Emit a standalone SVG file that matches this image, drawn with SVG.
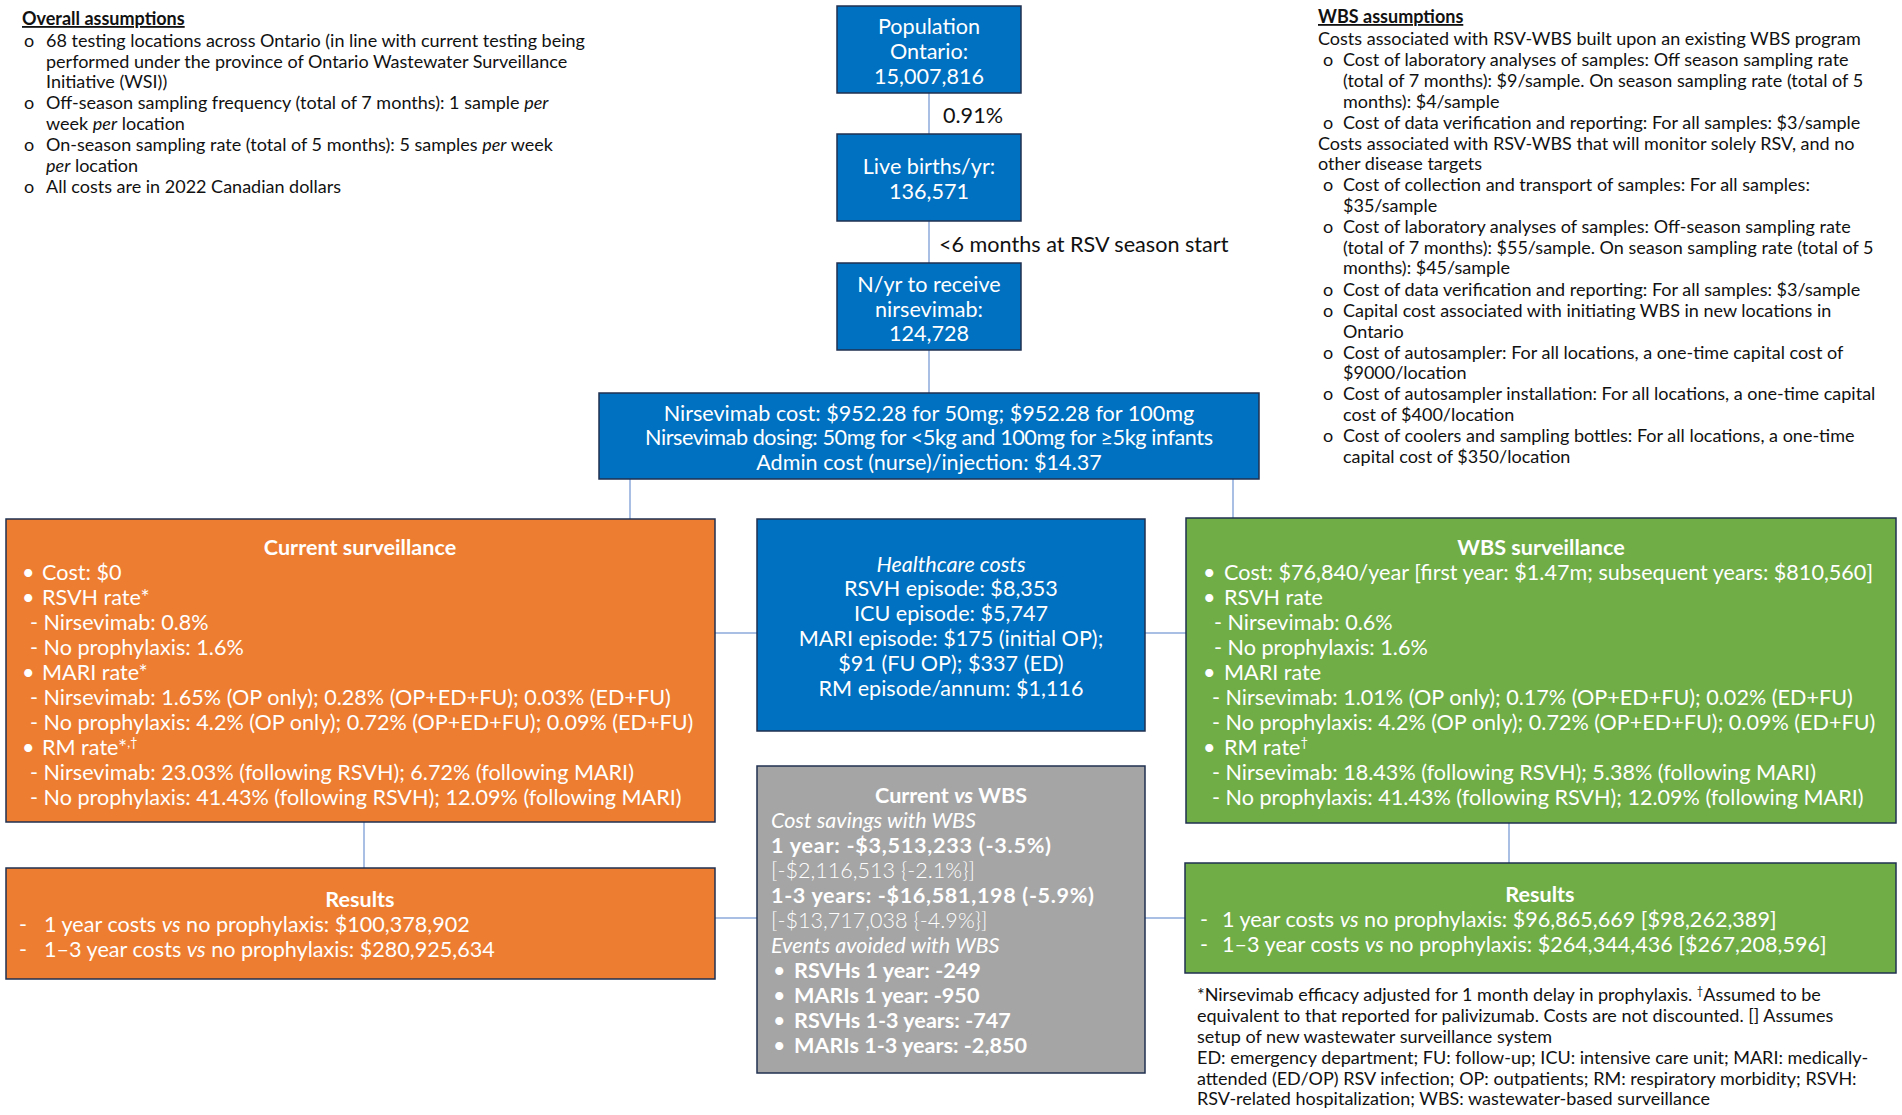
<svg xmlns="http://www.w3.org/2000/svg" width="1902" height="1115" viewBox="0 0 1902 1115">
<style>
text{font-family:Lato,"Noto Sans",sans-serif}
.k{font-size:18px;fill:#111}
.kt{font-size:18px;fill:#111;font-weight:700;text-decoration:underline}
.w{font-size:21.6px;fill:#fff}
.m{text-anchor:middle}
.b{font-weight:700}
.i{font-style:italic}
.l{font-weight:300}
.blue{fill:#0070c0;stroke:#1f3050;stroke-width:1.5}
.org{fill:#ed7d31;stroke:#1f3050;stroke-width:1.5}
.grn{fill:#70ad47;stroke:#1f3050;stroke-width:1.5}
.gry{fill:#a5a5a5;stroke:#1f3050;stroke-width:1.5}
.c{stroke:#8eaadb;stroke-width:1.5;fill:none}
</style>
<rect width="1902" height="1115" fill="#fff"/>

<g id="overall-assumptions">
<text class="kt" x="22" y="25">Overall assumptions</text>
<g class="k">
<text x="24" y="47">o</text><text x="46" y="47">68 testing locations across Ontario (in line with current testing being</text>
<text x="46" y="68">performed under the province of Ontario Wastewater Surveillance</text>
<text x="46" y="88">Initiative (WSI))</text>
<text x="24" y="109">o</text><text x="46" y="109">Off-season sampling frequency (total of 7 months): 1 sample <tspan class="i">per</tspan></text>
<text x="46" y="130">week <tspan class="i">per</tspan> location</text>
<text x="24" y="151">o</text><text x="46" y="151">On-season sampling rate (total of 5 months): 5 samples <tspan class="i">per</tspan> week</text>
<text x="46" y="172"><tspan class="i">per</tspan> location</text>
<text x="24" y="193">o</text><text x="46" y="193">All costs are in 2022 Canadian dollars</text>
</g>
</g>

<g id="wbs-assumptions">
<text class="kt" x="1318" y="23">WBS assumptions</text>
<g class="k">
<text x="1318" y="45">Costs associated with RSV-WBS built upon an existing WBS program</text>
<text x="1323" y="66">o</text><text x="1343" y="66">Cost of laboratory analyses of samples: Off season sampling rate</text>
<text x="1343" y="87">(total of 7 months): $9/sample. On season sampling rate (total of 5</text>
<text x="1343" y="108">months): $4/sample</text>
<text x="1323" y="129">o</text><text x="1343" y="129">Cost of data verification and reporting: For all samples: $3/sample</text>
<text x="1318" y="150">Costs associated with RSV-WBS that will monitor solely RSV, and no</text>
<text x="1318" y="170">other disease targets</text>
<text x="1323" y="191">o</text><text x="1343" y="191">Cost of collection and transport of samples: For all samples:</text>
<text x="1343" y="212">$35/sample</text>
<text x="1323" y="233">o</text><text x="1343" y="233">Cost of laboratory analyses of samples: Off-season sampling rate</text>
<text x="1343" y="254">(total of 7 months): $55/sample. On season sampling rate (total of 5</text>
<text x="1343" y="274">months): $45/sample</text>
<text x="1323" y="296">o</text><text x="1343" y="296">Cost of data verification and reporting: For all samples: $3/sample</text>
<text x="1323" y="317">o</text><text x="1343" y="317">Capital cost associated with initiating WBS in new locations in</text>
<text x="1343" y="338">Ontario</text>
<text x="1323" y="359">o</text><text x="1343" y="359">Cost of autosampler: For all locations, a one-time capital cost of</text>
<text x="1343" y="379">$9000/location</text>
<text x="1323" y="400">o</text><text x="1343" y="400">Cost of autosampler installation: For all locations, a one-time capital</text>
<text x="1343" y="421">cost of $400/location</text>
<text x="1323" y="442">o</text><text x="1343" y="442">Cost of coolers and sampling bottles: For all locations, a one-time</text>
<text x="1343" y="463">capital cost of $350/location</text>
</g>
</g>

<g id="connectors">
<line class="c" x1="929" y1="93" x2="929" y2="134"/>
<line class="c" x1="929" y1="221" x2="929" y2="263"/>
<line class="c" x1="929" y1="350" x2="929" y2="393"/>
<line class="c" x1="630" y1="479" x2="630" y2="519"/>
<line class="c" x1="1233" y1="479" x2="1233" y2="518"/>
<line class="c" x1="715" y1="633" x2="757" y2="633"/>
<line class="c" x1="1145" y1="633" x2="1186" y2="633"/>
<line class="c" x1="364" y1="822" x2="364" y2="868"/>
<line class="c" x1="1509" y1="823" x2="1509" y2="863"/>
<line class="c" x1="715" y1="918" x2="757" y2="918"/>
<line class="c" x1="1145" y1="918" x2="1185" y2="918"/>
<text x="943" y="122.5" style="font-size:21.6px;fill:#111">0.91%</text>
<text x="939" y="251.5" style="font-size:21.6px;fill:#111">&lt;6 months at RSV season start</text>
</g>

<g id="population">
<rect class="blue" x="837" y="6" width="184" height="87"/>
<text class="w m" x="929" y="33.5">Population</text>
<text class="w m" x="929" y="58.5">Ontario:</text>
<text class="w m" x="929" y="83.5">15,007,816</text>
</g>

<g id="live-births">
<rect class="blue" x="837" y="134" width="184" height="87"/>
<text class="w m" x="929" y="173.5">Live births/yr:</text>
<text class="w m" x="929" y="198.5">136,571</text>
</g>

<g id="n-receive">
<rect class="blue" x="837" y="263" width="184" height="87"/>
<text class="w m" x="929" y="291.5">N/yr to receive</text>
<text class="w m" x="929" y="316.5">nirsevimab:</text>
<text class="w m" x="929" y="340.5">124,728</text>
</g>

<g id="nirsevimab-cost">
<rect class="blue" x="599" y="393" width="660" height="86"/>
<text class="w m" x="929" y="420.5">Nirsevimab cost: $952.28 for 50mg; $952.28 for 100mg</text>
<text class="w m" x="929" y="445" textLength="568">Nirsevimab dosing: 50mg for &lt;5kg and 100mg for ≥5kg infants</text>
<text class="w m" x="929" y="469.5">Admin cost (nurse)/injection: $14.37</text>
</g>

<g id="current-surveillance">
<rect class="org" x="6" y="519" width="709" height="303"/>
<text class="w m b" x="360" y="554.5">Current surveillance</text>
<g class="w">
<text x="22" y="579.5">•</text><text x="42" y="579.5">Cost: $0</text>
<text x="22" y="604.5">•</text><text x="42" y="604.5">RSVH rate*</text>
<text x="30" y="629.5">- Nirsevimab: 0.8%</text>
<text x="30" y="654.5">- No prophylaxis: 1.6%</text>
<text x="22" y="679.5">•</text><text x="42" y="679.5">MARI rate*</text>
<text x="30" y="704.5">- Nirsevimab: 1.65% (OP only); 0.28% (OP+ED+FU); 0.03% (ED+FU)</text>
<text x="30" y="729.5">- No prophylaxis: 4.2% (OP only); 0.72% (OP+ED+FU); 0.09% (ED+FU)</text>
<text x="22" y="754.5">•</text><text x="42" y="754.5">RM rate*<tspan font-size="13" dy="-8">,†</tspan></text>
<text x="30" y="779.5">- Nirsevimab: 23.03% (following RSVH); 6.72% (following MARI)</text>
<text x="30" y="804.5">- No prophylaxis: 41.43% (following RSVH); 12.09% (following MARI)</text>
</g>
</g>

<g id="healthcare-costs">
<rect class="blue" x="757" y="519" width="388" height="212"/>
<text class="w m i" x="951" y="571.5">Healthcare costs</text>
<text class="w m" x="951" y="595.5">RSVH episode: $8,353</text>
<text class="w m" x="951" y="620.5">ICU episode: $5,747</text>
<text class="w m" x="951" y="645.5">MARI episode: $175 (initial OP);</text>
<text class="w m" x="951" y="670.5">$91 (FU OP); $337 (ED)</text>
<text class="w m" x="951" y="695.5">RM episode/annum: $1,116</text>
</g>

<g id="wbs-surveillance">
<rect class="grn" x="1186" y="518" width="710" height="305"/>
<text class="w m b" x="1541" y="554.5">WBS surveillance</text>
<g class="w">
<text x="1203" y="579.5">•</text><text x="1224" y="579.5">Cost: $76,840/year [first year: $1.47m; subsequent years: $810,560]</text>
<text x="1203" y="604.5">•</text><text x="1224" y="604.5">RSVH rate</text>
<text x="1214" y="629.5">- Nirsevimab: 0.6%</text>
<text x="1214" y="654.5">- No prophylaxis: 1.6%</text>
<text x="1203" y="679.5">•</text><text x="1224" y="679.5">MARI rate</text>
<text x="1212" y="704.5">- Nirsevimab: 1.01% (OP only); 0.17% (OP+ED+FU); 0.02% (ED+FU)</text>
<text x="1212" y="729.5">- No prophylaxis: 4.2% (OP only); 0.72% (OP+ED+FU); 0.09% (ED+FU)</text>
<text x="1203" y="754.5">•</text><text x="1224" y="754.5">RM rate<tspan font-size="13" dy="-8">†</tspan></text>
<text x="1212" y="779.5">- Nirsevimab: 18.43% (following RSVH); 5.38% (following MARI)</text>
<text x="1212" y="804.5">- No prophylaxis: 41.43% (following RSVH); 12.09% (following MARI)</text>
</g>
</g>

<g id="current-vs-wbs">
<rect class="gry" x="757" y="766" width="388" height="307"/>
<text class="w m b" x="951" y="802.5">Current <tspan class="i">vs</tspan> WBS</text>
<g class="w">
<text class="i" x="771" y="827.5">Cost savings with WBS</text>
<text class="b" x="771" y="853" textLength="280">1 year: -$3,513,233 (-3.5%)</text>
<text class="l" x="771" y="878">[-$2,116,513 {-2.1%}]</text>
<text class="b" x="771" y="903" textLength="323">1-3 years: -$16,581,198 (-5.9%)</text>
<text class="l" x="771" y="928">[-$13,717,038 {-4.9%}]</text>
<text class="i" x="771" y="952.5">Events avoided with WBS</text>
<text x="773" y="977.5">•</text><text class="b" x="794" y="977.5">RSVHs 1 year: -249</text>
<text x="773" y="1003">•</text><text class="b" x="794" y="1003">MARIs 1 year: -950</text>
<text x="773" y="1027.5">•</text><text class="b" x="794" y="1027.5">RSVHs 1-3 years: -747</text>
<text x="773" y="1052.5">•</text><text class="b" x="794" y="1052.5">MARIs 1-3 years: -2,850</text>
</g>
</g>

<g id="current-results">
<rect class="org" x="6" y="868" width="709" height="111"/>
<text class="w m b" x="360" y="906.5">Results</text>
<g class="w">
<text x="19" y="931.5">-</text><text x="44" y="931.5">1 year costs <tspan class="i">vs</tspan> no prophylaxis: $100,378,902</text>
<text x="19" y="956.5">-</text><text x="44" y="956.5">1–3 year costs <tspan class="i">vs</tspan> no prophylaxis: $280,925,634</text>
</g>
</g>

<g id="wbs-results">
<rect class="grn" x="1185" y="863" width="711" height="110"/>
<text class="w m b" x="1540" y="901.5">Results</text>
<g class="w">
<text x="1200" y="926.5">-</text><text x="1222" y="926.5">1 year costs <tspan class="i">vs</tspan> no prophylaxis: $96,865,669 [$98,262,389]</text>
<text x="1200" y="951.5">-</text><text x="1222" y="951.5">1–3 year costs <tspan class="i">vs</tspan> no prophylaxis: $264,344,436 [$267,208,596]</text>
</g>
</g>

<g id="footnote" class="k">
<text x="1197" y="1001">*Nirsevimab efficacy adjusted for 1 month delay in prophylaxis. <tspan font-size="11" dy="-6">†</tspan><tspan dy="6">Assumed to be</tspan></text>
<text x="1197" y="1022">equivalent to that reported for palivizumab. Costs are not discounted. [] Assumes</text>
<text x="1197" y="1043">setup of new wastewater surveillance system</text>
<text x="1197" y="1064">ED: emergency department; FU: follow-up; ICU: intensive care unit; MARI: medically-</text>
<text x="1197" y="1085">attended (ED/OP) RSV infection; OP: outpatients; RM: respiratory morbidity; RSVH:</text>
<text x="1197" y="1105">RSV-related hospitalization; WBS: wastewater-based surveillance</text>
</g>
</svg>
